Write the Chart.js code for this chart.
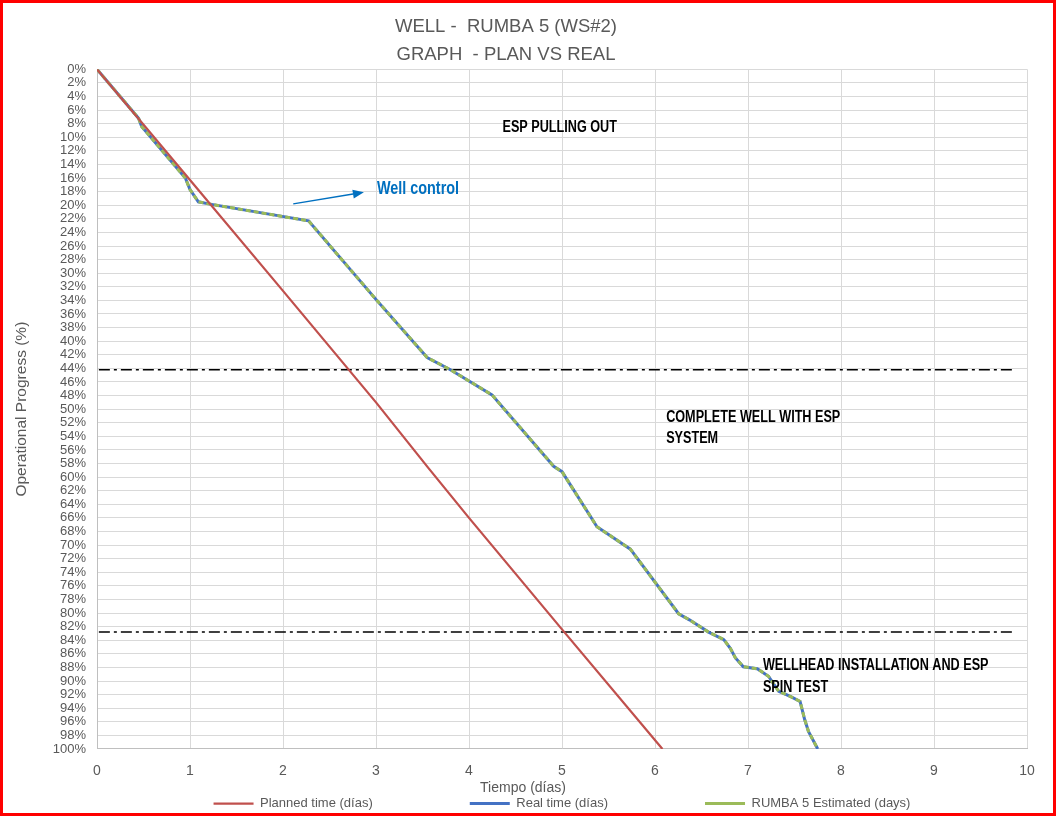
<!DOCTYPE html>
<html>
<head>
<meta charset="utf-8">
<script src="https://cdn.jsdelivr.net/npm/chart.js@4.4.1/dist/chart.umd.min.js"></script>
<style>
  html, body { margin: 0; padding: 0; background: #ffffff; overflow: hidden; }
  #wrap { position: relative; width: 1056px; height: 816px; }
  #c { position: absolute; left: 0; top: 0; }
  #frame { position: absolute; left: 0; top: 0; width: 1056px; height: 816px; box-sizing: border-box;
           border: 3px solid #ff0000; pointer-events: none; }
</style>
</head>
<body>
<div id="wrap">
  <canvas id="c" width="1056" height="816"></canvas>
  <div id="frame"></div>
</div>
<script>
// ---------------- DATA ----------------
const titleLines = ['WELL -  RUMBA 5 (WS#2)', 'GRAPH  - PLAN VS REAL'];
const xAxisTitle = 'Tiempo (días)';
const yAxisTitle = 'Operational Progress (%)';
const seriesNames = ['Planned time (días)', 'Real time (días)', 'RUMBA 5 Estimated (days)'];

const xTickValues = [0, 1, 2, 3, 4, 5, 6, 7, 8, 9, 10];

const plannedDays = [0, 1, 2, 3, 3.56, 4, 5, 6.08];
const plannedPct  = [0, 16.3, 32.6, 49.0, 58.6, 66.0, 82.4, 100];

const realDays = [0, 0.447, 0.48, 0.95, 1.0, 1.09, 1.2, 2.275, 2.99, 3.55, 3.8, 4.247, 4.91, 5.0,
                  5.376, 5.735, 6.254, 6.37, 6.576, 6.74, 6.81, 6.865, 6.95, 7.1, 7.22, 7.33,
                  7.46, 7.56, 7.61, 7.65, 7.75];
const realPct  = [0, 7.2, 8.4, 16.0, 17.7, 19.5, 19.8, 22.3, 33.7, 42.4, 44.2, 47.9, 58.4, 59.2,
                  67.3, 70.6, 80.1, 81.0, 82.8, 83.9, 85.2, 86.6, 87.9, 88.2, 89.3, 91.5,
                  92.3, 93.0, 95.7, 97.4, 100];

const estimatedDays = [0, 0.447, 0.48, 0.95, 1.0, 1.09, 1.2, 2.275, 2.99, 3.55, 3.8, 4.247, 4.91, 5.0,
                       5.376, 5.735, 6.254, 6.37, 6.576, 6.74, 6.81, 6.865, 6.95, 7.1, 7.22, 7.33,
                       7.46, 7.56, 7.61, 7.65, 7.75];
const estimatedPct  = [0, 7.2, 8.4, 16.0, 17.7, 19.5, 19.8, 22.3, 33.7, 42.4, 44.2, 47.9, 58.4, 59.2,
                       67.3, 70.6, 80.1, 81.0, 82.8, 83.9, 85.2, 86.6, 87.9, 88.2, 89.3, 91.5,
                       92.3, 93.0, 95.7, 97.4, 100];

// phase separators (dash-dot lines)
const phaseLineDays = [0.02, 9.87];
const phase1Pct = [44.2, 44.2];
const phase2Pct = [82.8, 82.8];

// phase / event labels
const noteTexts = [
  ['ESP PULLING OUT'],
  ['Well control'],
  ['COMPLETE WELL WITH ESP', 'SYSTEM'],
  ['WELLHEAD INSTALLATION AND ESP', 'SPIN TEST']
];
const noteDays = [4.36, 3.01, 6.12, 7.16];
const notePct  = [8.6, 17.6, 51.2, 87.8];
const arrowFrom = [2.11, 19.8];
const arrowTo   = [2.87, 18.1];

// ---------------- STYLE ----------------
const FONT = "'Liberation Sans', Arial, sans-serif";
const GREY_TEXT = '#595959';
const GRID = '#D9D9D9';
const RED = '#C0504D', BLUE = '#4472C4', GREEN = '#9BBB59', BLUE_NOTE = '#0070C0';
const NOTE_SQUEEZE = 0.79;

const toPts = (xs, ys) => xs.map((x, i) => ({ x: x, y: ys[i] }));

Chart.defaults.font.family = FONT;
Chart.defaults.color = GREY_TEXT;

const layoutTweaks = {
  id: 'layoutTweaks',
  afterLayout(chart) {
    const ca = chart.chartArea;
    const t = chart.titleBlock;
    if (t) {
      const s = 506 - (t.left + t.right) / 2;
      t.left += s; t.right += s;
    }
    const lg = chart.legend;
    if (lg) {
      const s = (ca.left + ca.right) / 2 - (lg.left + lg.right) / 2;
      lg.left += s; lg.right += s;
      lg.top = 797 - lg.options.labels.padding;
    }
  }
};

const notesPlugin = {
  id: 'notesPlugin',
  afterDraw(chart) {
    const { ctx, scales } = chart;
    const xs = scales.x, ys = scales.y;
    ctx.save();
    // x axis title
    ctx.font = '14px ' + FONT;
    ctx.fillStyle = GREY_TEXT;
    ctx.textAlign = 'center';
    ctx.textBaseline = 'middle';
    ctx.fillText(xAxisTitle, 523, 788);

    // notes (horizontally squeezed bold text, like a condensed face)
    ctx.textAlign = 'left';
    noteTexts.forEach((lines, i) => {
      const isBlue = i === 1;
      ctx.font = 'bold ' + (isBlue ? 18 : 16) + 'px ' + FONT;
      ctx.fillStyle = isBlue ? BLUE_NOTE : '#000000';
      const px = xs.getPixelForValue(noteDays[i]);
      const py = ys.getPixelForValue(notePct[i]);
      lines.forEach((ln, j) => {
        ctx.save();
        ctx.translate(px, py + j * 21.5);
        ctx.scale(isBlue ? 0.8 : NOTE_SQUEEZE, 1);
        ctx.fillText(ln, 0, 0);
        ctx.restore();
      });
    });

    // arrow
    const x1 = xs.getPixelForValue(arrowFrom[0]), y1 = ys.getPixelForValue(arrowFrom[1]);
    const x2 = xs.getPixelForValue(arrowTo[0]),   y2 = ys.getPixelForValue(arrowTo[1]);
    const ang = Math.atan2(y2 - y1, x2 - x1);
    const hl = 11, hw = 4.5;
    const bx = x2 - hl * Math.cos(ang), by = y2 - hl * Math.sin(ang);
    ctx.strokeStyle = BLUE_NOTE; ctx.fillStyle = BLUE_NOTE; ctx.lineWidth = 1.5;
    ctx.beginPath(); ctx.moveTo(x1, y1); ctx.lineTo(bx, by); ctx.stroke();
    ctx.beginPath();
    ctx.moveTo(x2, y2);
    ctx.lineTo(bx + hw * Math.sin(ang), by - hw * Math.cos(ang));
    ctx.lineTo(bx - hw * Math.sin(ang), by + hw * Math.cos(ang));
    ctx.closePath(); ctx.fill();
    ctx.restore();
  }
};

new Chart(document.getElementById('c'), {
  type: 'line',
  data: {
    datasets: [
      { label: seriesNames[0], data: toPts(plannedDays, plannedPct), borderColor: RED, backgroundColor: RED,
        borderWidth: 2.25, pointRadius: 0, tension: 0, order: 0 },
      { label: seriesNames[1], data: toPts(realDays, realPct), borderColor: BLUE, backgroundColor: BLUE,
        borderWidth: 3, pointRadius: 0, tension: 0, order: 2 },
      { label: seriesNames[2], data: toPts(estimatedDays, estimatedPct), borderColor: GREEN, backgroundColor: GREEN,
        borderWidth: 3, borderDash: [5, 3], pointRadius: 0, tension: 0, order: 1 },
      { label: 'phase1', data: toPts(phaseLineDays, phase1Pct), borderColor: '#000000',
        borderWidth: 1.5, borderDash: [11, 4, 3, 4], pointRadius: 0, order: 3 },
      { label: 'phase2', data: toPts(phaseLineDays, phase2Pct), borderColor: '#000000',
        borderWidth: 1.5, borderDash: [11, 4, 3, 4], pointRadius: 0, order: 3 }
    ]
  },
  options: {
    responsive: false,
    animation: false,
    devicePixelRatio: 1,
    layout: { padding: { left: 0, right: 29, top: 0, bottom: 0 } },
    plugins: {
      title: {
        display: true, text: titleLines, color: GREY_TEXT,
        font: { size: 18.5, weight: 'normal', lineHeight: 1.5135 },
        padding: { top: 12.5, bottom: 0.8 }
      },
      legend: {
        position: 'bottom',
        maxHeight: 30,
        labels: {
          color: GREY_TEXT, font: { size: 13 }, padding: 97,
          usePointStyle: true, pointStyle: 'line', pointStyleWidth: 40, boxWidth: 40,
          filter: (item) => item.datasetIndex < 3,
          sort: (a, b) => a.datasetIndex - b.datasetIndex
        }
      },
      tooltip: { enabled: false }
    },
    scales: {
      x: {
        type: 'linear', min: 0, max: 10,
        afterBuildTicks: (scale) => { scale.ticks = xTickValues.map(v => ({ value: v })); },
        ticks: { stepSize: 1, color: GREY_TEXT, font: { size: 14 }, padding: 14 },
        grid: { color: GRID, lineWidth: 1, drawTicks: false },
        border: { color: '#BFBFBF' },
        afterFit: (scale) => { scale.height = 37; }
      },
      y: {
        type: 'linear', min: 0, max: 100, reverse: true,
        ticks: { stepSize: 2, autoSkip: false, maxTicksLimit: 60, color: GREY_TEXT, font: { size: 13 }, padding: 11,
                 callback: (v) => v + '%' },
        grid: { color: GRID, lineWidth: 1, drawTicks: false },
        border: { color: '#BFBFBF' },
        title: { display: true, text: yAxisTitle, color: GREY_TEXT, font: { size: 15.5 }, padding: { top: 12, bottom: 0 } },
        afterFit: (scale) => { scale.width = 97; }
      }
    }
  },
  plugins: [layoutTweaks, notesPlugin]
});
</script>
</body>
</html>
